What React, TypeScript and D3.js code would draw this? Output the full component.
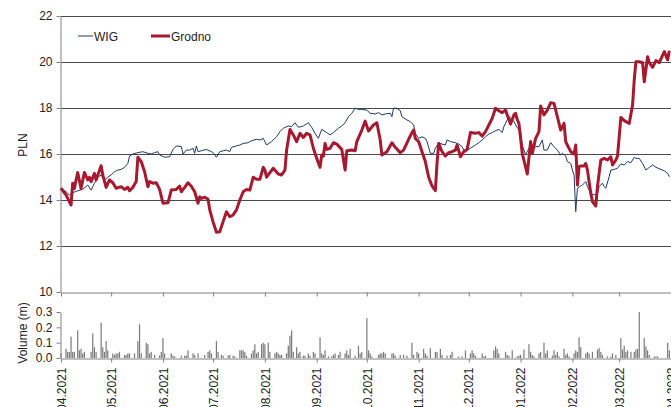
import React from "react";
import * as d3 from "d3";

const WIDTH = 671;
const HEIGHT = 407;
const FONT = "'Liberation Sans', Arial, sans-serif";

// month ticks on the shared time axis
const monthTicks = [
  "2021-04-01", "2021-05-01", "2021-06-01", "2021-07-01", "2021-08-01", "2021-09-01", "2021-10-01",
  "2021-11-01", "2021-12-01", "2022-01-01", "2022-02-01", "2022-03-01", "2022-04-01",
];
const priceTicks = [10, 12, 14, 16, 18, 20, 22];
const volumeTicks = [0, 0.1, 0.2, 0.3];

// WIG (rebased to PLN)
const wig: [string, number][] = [
  ["2021-04-01",14.51],["2021-04-04",14.36],["2021-04-06",14.22],["2021-04-08",14.32],["2021-04-11",14.40],["2021-04-14",14.46],["2021-04-17",14.65],["2021-04-19",14.43],["2021-04-21",14.73],["2021-04-23",14.99],["2021-04-25",15.09],["2021-04-27",14.87],["2021-04-29",14.99],
  ["2021-05-01",15.09],["2021-05-03",15.23],["2021-05-05",15.30],["2021-05-07",15.33],["2021-05-09",15.42],["2021-05-11",15.59],["2021-05-12",15.91],["2021-05-14",16.00],["2021-05-17",16.06],["2021-05-20",16.10],["2021-05-23",16.03],["2021-05-25",16.00],["2021-05-27",16.06],["2021-05-29",16.10],["2021-05-30",15.96],
  ["2021-06-02",15.86],["2021-06-05",15.88],["2021-06-07",16.20],["2021-06-09",16.35],["2021-06-12",16.32],["2021-06-13",16.00],["2021-06-15",16.17],["2021-06-17",16.17],["2021-06-19",16.25],["2021-06-20",16.03],["2021-06-21",16.35],["2021-06-22",16.10],["2021-06-24",16.14],["2021-06-27",16.20],["2021-06-30",16.10],
  ["2021-07-01",16.06],["2021-07-03",15.86],["2021-07-05",16.10],["2021-07-07",16.14],["2021-07-09",16.17],["2021-07-11",16.10],["2021-07-12",16.29],["2021-07-15",16.35],["2021-07-17",16.39],["2021-07-19",16.46],["2021-07-22",16.49],["2021-07-24",16.58],["2021-07-27",16.64],["2021-07-29",16.61],["2021-07-31",16.68],
  ["2021-08-02",16.39],["2021-08-05",16.54],["2021-08-08",16.75],["2021-08-10",16.97],["2021-08-12",17.12],["2021-08-15",17.22],["2021-08-17",17.19],["2021-08-19",17.36],["2021-08-21",17.16],["2021-08-24",17.22],["2021-08-27",17.36],["2021-08-29",17.16],["2021-08-31",16.90],
  ["2021-09-02",16.68],["2021-09-04",17.07],["2021-09-07",16.93],["2021-09-09",16.83],["2021-09-11",16.93],["2021-09-14",17.12],["2021-09-16",17.22],["2021-09-18",17.36],["2021-09-20",17.62],["2021-09-22",17.77],["2021-09-24",17.99],["2021-09-26",17.94],["2021-09-28",17.94],
  ["2021-10-01",17.91],["2021-10-03",17.77],["2021-10-06",17.74],["2021-10-08",17.80],["2021-10-10",17.70],["2021-10-12",17.74],["2021-10-15",17.77],["2021-10-16",17.62],["2021-10-17",17.99],["2021-10-19",17.99],["2021-10-21",17.88],["2021-10-22",17.62],["2021-10-25",17.48],["2021-10-27",17.41],["2021-10-29",17.26],["2021-10-30",16.90],
  ["2021-11-01",16.68],["2021-11-03",16.75],["2021-11-05",16.68],["2021-11-06",16.54],["2021-11-08",16.03],["2021-11-10",16.03],["2021-11-11",16.25],["2021-11-13",16.49],["2021-11-15",16.43],["2021-11-17",16.39],["2021-11-18",16.61],["2021-11-20",16.54],["2021-11-23",16.49],["2021-11-25",16.43],["2021-11-27",16.32],["2021-11-28",16.17],["2021-11-30",16.17],
  ["2021-12-02",16.25],["2021-12-05",16.39],["2021-12-07",16.49],["2021-12-09",16.61],["2021-12-11",16.75],["2021-12-13",16.87],["2021-12-15",16.93],["2021-12-17",17.01],["2021-12-19",17.07],["2021-12-21",16.93],["2021-12-22",17.19],["2021-12-24",17.48],["2021-12-25",17.62],["2021-12-27",17.51],["2021-12-28",17.41],["2021-12-30",17.15],
  ["2022-01-01",16.97],["2022-01-02",16.39],["2022-01-04",15.96],["2022-01-06",16.25],["2022-01-08",16.17],["2022-01-10",16.32],["2022-01-12",16.32],["2022-01-14",16.61],["2022-01-15",16.17],["2022-01-17",16.17],["2022-01-19",16.49],["2022-01-21",16.32],["2022-01-23",16.17],["2022-01-25",15.96],["2022-01-26",16.03],["2022-01-28",15.91],["2022-01-29",15.67],["2022-01-31",15.59],
  ["2022-02-01",15.30],["2022-02-02",15.09],["2022-02-03",13.49],["2022-02-04",14.51],["2022-02-06",14.61],["2022-02-07",14.65],["2022-02-09",14.80],["2022-02-10",14.58],["2022-02-12",14.29],["2022-02-14",14.22],["2022-02-16",14.29],["2022-02-17",14.58],["2022-02-19",14.73],["2022-02-20",14.58],["2022-02-21",14.51],["2022-02-23",15.01],["2022-02-24",15.30],["2022-02-26",15.33],["2022-02-28",15.38],
  ["2022-03-02",15.57],["2022-03-04",15.52],["2022-03-06",15.67],["2022-03-08",15.62],["2022-03-10",15.86],["2022-03-11",15.81],["2022-03-13",15.81],["2022-03-15",15.59],["2022-03-17",15.30],["2022-03-19",15.42],["2022-03-21",15.52],["2022-03-23",15.42],["2022-03-26",15.33],["2022-03-28",15.27],["2022-03-30",15.16],["2022-03-31",15.01],
];

// Grodno share price
const grodno: [string, number][] = [
  ["2021-04-01",14.51],["2021-04-04",14.22],["2021-04-07",13.78],["2021-04-08",14.73],["2021-04-09",14.50],["2021-04-10",14.87],["2021-04-11",15.19],["2021-04-13",14.50],["2021-04-15",15.20],["2021-04-17",14.87],["2021-04-18",14.99],["2021-04-19",14.80],["2021-04-21",15.16],["2021-04-22",14.87],["2021-04-25",15.49],["2021-04-26",15.09],["2021-04-28",14.55],["2021-04-30",14.87],
  ["2021-05-02",14.75],["2021-05-04",14.51],["2021-05-07",14.58],["2021-05-09",14.46],["2021-05-11",14.55],["2021-05-12",14.40],["2021-05-14",14.55],["2021-05-16",14.80],["2021-05-17",15.86],["2021-05-19",15.67],["2021-05-21",15.23],["2021-05-23",14.58],["2021-05-24",14.80],["2021-05-26",14.73],["2021-05-28",14.75],["2021-05-30",14.46],
  ["2021-06-01",13.86],["2021-06-04",13.88],["2021-06-06",14.43],["2021-06-09",14.46],["2021-06-11",14.60],["2021-06-12",14.36],["2021-06-14",14.55],["2021-06-16",14.75],["2021-06-18",14.60],["2021-06-20",14.36],["2021-06-22",13.86],["2021-06-23",14.14],["2021-06-24",14.07],["2021-06-26",14.12],["2021-06-28",14.03],["2021-06-29",13.57],
  ["2021-07-01",13.05],["2021-07-03",12.60],["2021-07-05",12.62],["2021-07-07",13.06],["2021-07-09",13.49],["2021-07-11",13.27],["2021-07-13",13.35],["2021-07-15",13.57],["2021-07-17",14.00],["2021-07-19",14.36],["2021-07-21",14.46],["2021-07-23",14.43],["2021-07-25",14.99],["2021-07-27",14.90],["2021-07-29",14.90],["2021-07-31",15.42],
  ["2021-08-01",15.30],["2021-08-02",14.99],["2021-08-04",15.19],["2021-08-06",15.38],["2021-08-09",15.13],["2021-08-11",15.09],["2021-08-13",15.30],["2021-08-14",16.17],["2021-08-16",17.07],["2021-08-18",16.83],["2021-08-20",16.54],["2021-08-22",16.90],["2021-08-24",16.72],["2021-08-26",16.90],["2021-08-28",16.83],["2021-08-30",16.25],
  ["2021-09-01",15.81],["2021-09-03",15.42],["2021-09-04",15.96],["2021-09-05",15.91],["2021-09-06",16.46],["2021-09-07",16.20],["2021-09-09",16.25],["2021-09-11",16.49],["2021-09-13",16.43],["2021-09-16",16.20],["2021-09-18",15.30],["2021-09-19",16.14],["2021-09-22",16.17],["2021-09-24",16.14],["2021-09-25",16.54],["2021-09-28",17.04],["2021-09-30",17.43],
  ["2021-10-02",17.00],["2021-10-05",17.26],["2021-10-07",17.36],["2021-10-09",16.61],["2021-10-10",15.96],["2021-10-13",16.10],["2021-10-16",16.49],["2021-10-18",16.29],["2021-10-21",16.06],["2021-10-23",16.17],["2021-10-26",16.64],["2021-10-28",16.93],["2021-10-29",17.04],["2021-10-30",16.68],
  ["2021-11-01",16.54],["2021-11-03",16.10],["2021-11-05",15.67],["2021-11-07",14.99],["2021-11-09",14.61],["2021-11-11",14.41],["2021-11-12",15.59],["2021-11-13",16.46],["2021-11-15",16.10],["2021-11-17",15.91],["2021-11-19",16.06],["2021-11-21",16.10],["2021-11-23",16.17],["2021-11-24",16.39],["2021-11-26",15.88],["2021-11-28",16.10],["2021-11-30",16.20],
  ["2021-12-02",16.93],["2021-12-05",16.90],["2021-12-07",16.93],["2021-12-09",16.78],["2021-12-11",16.97],["2021-12-13",17.26],["2021-12-15",17.55],["2021-12-17",17.99],["2021-12-19",17.88],["2021-12-21",17.80],["2021-12-23",17.91],["2021-12-24",17.70],["2021-12-26",17.30],["2021-12-28",17.70],["2021-12-29",17.77],["2021-12-30",17.50],["2021-12-31",17.33],
  ["2022-01-02",16.03],["2022-01-05",15.13],["2022-01-07",16.54],["2022-01-08",16.03],["2022-01-10",16.68],["2022-01-12",16.97],["2022-01-13",18.09],["2022-01-15",17.70],["2022-01-17",17.91],["2022-01-19",18.23],["2022-01-21",18.20],["2022-01-23",17.62],["2022-01-25",17.04],["2022-01-27",17.33],["2022-01-28",16.54],["2022-01-29",16.39],["2022-01-31",16.10],
  ["2022-02-02",16.00],["2022-02-03",16.39],["2022-02-04",14.65],["2022-02-05",15.45],["2022-02-06",15.48],["2022-02-08",15.48],["2022-02-09",15.59],["2022-02-10",15.30],["2022-02-12",14.29],["2022-02-13",13.93],["2022-02-15",13.74],["2022-02-16",14.58],["2022-02-18",15.74],["2022-02-20",15.81],["2022-02-22",15.74],["2022-02-24",15.88],["2022-02-25",15.52],["2022-02-27",15.74],["2022-02-28",15.91],
  ["2022-03-02",17.59],["2022-03-04",17.45],["2022-03-07",17.33],["2022-03-09",18.13],["2022-03-10",19.22],["2022-03-11",20.01],["2022-03-13",20.01],["2022-03-15",19.97],["2022-03-16",19.14],["2022-03-18",20.23],["2022-03-19",19.97],["2022-03-21",19.77],["2022-03-23",20.06],["2022-03-25",19.97],["2022-03-27",20.30],["2022-03-28",20.45],["2022-03-30",20.09],["2022-03-31",20.49],
];

// daily volume, millions of shares
const volume: [string, number][] = [
  ["2021-04-01",0.03],["2021-04-04",0.06],["2021-04-05",0.04],["2021-04-06",0.04],["2021-04-07",0.14],["2021-04-08",0.04],["2021-04-09",0.04],["2021-04-11",0.18],["2021-04-12",0.05],["2021-04-13",0.06],["2021-04-14",0.03],["2021-04-15",0.04],["2021-04-19",0.04],["2021-04-20",0.16],["2021-04-21",0.07],["2021-04-22",0.04],["2021-04-25",0.23],["2021-04-26",0.07],["2021-04-27",0.04],["2021-04-28",0.11],["2021-04-29",0.05],
  ["2021-05-02",0.03],["2021-05-03",0.02],["2021-05-04",0.03],["2021-05-05",0.03],["2021-05-06",0.04],["2021-05-09",0.02],["2021-05-10",0.02],["2021-05-11",0.03],["2021-05-12",0.03],["2021-05-15",0.03],["2021-05-17",0.11],["2021-05-18",0.22],["2021-05-19",0.03],["2021-05-22",0.10],["2021-05-23",0.09],["2021-05-24",0.03],["2021-05-25",0.04],["2021-05-27",0.02],["2021-05-30",0.015],["2021-05-31",0.04],
  ["2021-06-01",0.13],["2021-06-02",0.03],["2021-06-06",0.03],["2021-06-07",0.015],["2021-06-08",0.01],["2021-06-12",0.015],["2021-06-14",0.015],["2021-06-15",0.015],["2021-06-16",0.05],["2021-06-19",0.03],["2021-06-20",0.02],["2021-06-22",0.03],["2021-06-26",0.02],["2021-06-28",0.04],["2021-06-29",0.05],["2021-06-30",0.03],
  ["2021-07-03",0.11],["2021-07-04",0.04],["2021-07-06",0.02],["2021-07-07",0.015],["2021-07-10",0.015],["2021-07-11",0.02],["2021-07-13",0.015],["2021-07-14",0.01],["2021-07-17",0.05],["2021-07-18",0.05],["2021-07-19",0.05],["2021-07-20",0.04],["2021-07-21",0.015],["2021-07-24",0.03],["2021-07-25",0.05],["2021-07-26",0.09],["2021-07-27",0.03],["2021-07-28",0.04],["2021-07-30",0.09],["2021-07-31",0.10],
  ["2021-08-01",0.09],["2021-08-03",0.10],["2021-08-04",0.04],["2021-08-07",0.03],["2021-08-08",0.04],["2021-08-09",0.03],["2021-08-10",0.02],["2021-08-11",0.02],["2021-08-14",0.03],["2021-08-15",0.08],["2021-08-16",0.145],["2021-08-17",0.18],["2021-08-18",0.04],["2021-08-20",0.07],["2021-08-21",0.03],["2021-08-22",0.04],["2021-08-24",0.015],["2021-08-25",0.015],["2021-08-27",0.03],["2021-08-28",0.015],["2021-08-30",0.04],["2021-08-31",0.03],
  ["2021-09-03",0.135],["2021-09-04",0.03],["2021-09-05",0.02],["2021-09-06",0.05],["2021-09-08",0.01],["2021-09-10",0.01],["2021-09-11",0.02],["2021-09-12",0.03],["2021-09-14",0.02],["2021-09-15",0.04],["2021-09-18",0.03],["2021-09-19",0.05],["2021-09-20",0.02],["2021-09-21",0.06],["2021-09-24",0.015],["2021-09-26",0.08],["2021-09-27",0.03],["2021-09-28",0.04],
  ["2021-10-01",0.26],["2021-10-02",0.05],["2021-10-03",0.03],["2021-10-04",0.01],["2021-10-08",0.02],["2021-10-09",0.03],["2021-10-10",0.03],["2021-10-11",0.04],["2021-10-12",0.03],["2021-10-16",0.03],["2021-10-17",0.03],["2021-10-18",0.015],["2021-10-21",0.02],["2021-10-23",0.02],["2021-10-25",0.015],["2021-10-28",0.10],["2021-10-29",0.02],["2021-10-31",0.04],
  ["2021-11-01",0.03],["2021-11-04",0.06],["2021-11-05",0.03],["2021-11-06",0.015],["2021-11-08",0.065],["2021-11-11",0.04],["2021-11-12",0.04],["2021-11-14",0.06],["2021-11-15",0.02],["2021-11-18",0.015],["2021-11-20",0.02],["2021-11-21",0.04],["2021-11-25",0.01],["2021-11-27",0.01],["2021-11-29",0.05],
  ["2021-12-02",0.03],["2021-12-03",0.05],["2021-12-04",0.03],["2021-12-05",0.015],["2021-12-09",0.03],["2021-12-10",0.01],["2021-12-11",0.015],["2021-12-16",0.05],["2021-12-17",0.075],["2021-12-18",0.06],["2021-12-19",0.03],["2021-12-23",0.04],["2021-12-24",0.02],["2021-12-25",0.015],["2021-12-27",0.05],["2021-12-30",0.01],["2021-12-31",0.015],
  ["2022-01-01",0.02],["2022-01-03",0.055],["2022-01-06",0.09],["2022-01-07",0.04],["2022-01-08",0.02],["2022-01-09",0.01],["2022-01-12",0.03],["2022-01-13",0.04],["2022-01-15",0.10],["2022-01-16",0.03],["2022-01-17",0.05],["2022-01-20",0.015],["2022-01-21",0.05],["2022-01-22",0.02],["2022-01-23",0.04],["2022-01-24",0.01],["2022-01-27",0.06],["2022-01-28",0.02],["2022-01-29",0.03],["2022-01-30",0.01],
  ["2022-02-02",0.03],["2022-02-03",0.05],["2022-02-04",0.04],["2022-02-05",0.135],["2022-02-06",0.07],["2022-02-09",0.03],["2022-02-10",0.04],["2022-02-11",0.03],["2022-02-13",0.04],["2022-02-16",0.055],["2022-02-17",0.065],["2022-02-18",0.04],["2022-02-19",0.02],["2022-02-22",0.01],["2022-02-24",0.01],["2022-02-25",0.03],["2022-02-27",0.02],
  ["2022-03-02",0.13],["2022-03-03",0.055],["2022-03-04",0.08],["2022-03-05",0.04],["2022-03-06",0.05],["2022-03-08",0.04],["2022-03-10",0.04],["2022-03-11",0.055],["2022-03-12",0.06],["2022-03-13",0.30],["2022-03-16",0.13],["2022-03-17",0.075],["2022-03-18",0.05],["2022-03-19",0.02],["2022-03-22",0.01],["2022-03-23",0.01],["2022-03-24",0.01],["2022-03-30",0.10],["2022-03-31",0.05],
];

const App = () => {
  const svgRef = React.useRef<SVGSVGElement>(null);

  React.useEffect(() => {
    const parse = d3.timeParse("%Y-%m-%d");
    const months = monthTicks.map((d) => parse(d) as Date);

    const x = d3.scaleTime().domain([months[0], months[months.length - 1]]).range([61, 671]);
    const y = d3.scaleLinear().domain([10, 22]).range([292, 16]);
    const yVol = d3.scaleLinear().domain([0, 0.3]).range([358, 312]);

    const svgEl = d3.select(svgRef.current);
    svgEl.selectAll("*").remove();
    const svg = svgEl.append("g");

    // horizontal grid lines
    svg
      .append("g")
      .selectAll("line")
      .data(priceTicks.filter((t) => t !== 10))
      .join("line")
      .attr("x1", 61)
      .attr("x2", 671)
      .attr("y1", (d) => Math.round(y(d)) + 0.5)
      .attr("y2", (d) => Math.round(y(d)) + 0.5)
      .attr("stroke", "#4a4a4a")
      .attr("stroke-width", 1);

    const styleAxis = (g: d3.Selection<SVGGElement, unknown, null, undefined>) => {
      g.select(".domain").attr("stroke", "#808080");
      g.selectAll(".tick line").attr("stroke", "#808080");
      g.selectAll("text").attr("font-family", FONT).attr("font-size", 12).attr("fill", "#222");
    };

    // price axis
    const yAxisGroup = svg
      .append("g")
      .attr("transform", "translate(60.5,0)")
      .call(d3.axisLeft(y).tickValues(priceTicks).tickSize(4).tickSizeOuter(0).tickPadding(4));
    styleAxis(yAxisGroup);

    const xTopGroup = svg
      .append("g")
      .attr("transform", "translate(0,292.5)")
      .call(d3.axisBottom(x).tickValues(months).tickSize(4).tickSizeOuter(0).tickFormat(() => ""));
    styleAxis(xTopGroup);

    // volume bars
    svg
      .append("g")
      .selectAll("rect")
      .data(volume)
      .join("rect")
      .attr("x", (d) => x(parse(d[0]) as Date) - 0.6)
      .attr("width", 1.2)
      .attr("y", (d) => yVol(d[1]))
      .attr("height", (d) => yVol(0) - yVol(d[1]))
      .attr("fill", "#7a7a7a");

    const volAxisGroup = svg
      .append("g")
      .attr("transform", "translate(60.5,0)")
      .call(d3.axisLeft(yVol).tickValues(volumeTicks).tickSize(4).tickSizeOuter(0).tickPadding(4).tickFormat(d3.format(".1f")));
    styleAxis(volAxisGroup);

    const xAxisGroup = svg
      .append("g")
      .attr("transform", "translate(0,358.5)")
      .call(
        d3.axisBottom(x).tickValues(months).tickSize(4).tickSizeOuter(0)
          .tickFormat((d) => d3.timeFormat("%m.%Y")(d as Date))
      );
    styleAxis(xAxisGroup);
    xAxisGroup
      .selectAll("text")
      .attr("transform", "rotate(-90)")
      .attr("x", -9)
      .attr("y", 0)
      .attr("dy", "0.35em")
      .attr("text-anchor", "end");

    // series lines
    const line = d3
      .line<[string, number]>()
      .x((d) => x(parse(d[0]) as Date))
      .y((d) => y(d[1]));

    svg
      .append("path")
      .datum(wig)
      .attr("fill", "none")
      .attr("stroke", "#1f3864")
      .attr("stroke-width", 1)
      .attr("d", line);

    svg
      .append("path")
      .datum(grodno)
      .attr("fill", "none")
      .attr("stroke", "#a6192e")
      .attr("stroke-width", 3)
      .attr("stroke-linejoin", "round")
      .attr("d", line);

    // axis titles
    svg
      .append("text")
      .attr("transform", "translate(27,145) rotate(-90)")
      .attr("text-anchor", "middle")
      .attr("font-family", FONT)
      .attr("font-size", 12)
      .attr("fill", "#222")
      .text("PLN");
    svg
      .append("text")
      .attr("transform", "translate(27,333) rotate(-90)")
      .attr("text-anchor", "middle")
      .attr("font-family", FONT)
      .attr("font-size", 12)
      .attr("fill", "#222")
      .text("Volume (m)");

    // legend
    const legend = svg.append("g").attr("font-family", FONT).attr("font-size", 12).attr("fill", "#222");
    legend.append("line").attr("x1", 78).attr("x2", 93).attr("y1", 36).attr("y2", 36).attr("stroke", "#1f3864").attr("stroke-width", 1);
    legend.append("text").attr("x", 94).attr("y", 40.5).text("WIG");
    legend.append("line").attr("x1", 151).attr("x2", 170).attr("y1", 36).attr("y2", 36).attr("stroke", "#a6192e").attr("stroke-width", 3);
    legend.append("text").attr("x", 171).attr("y", 40.5).text("Grodno");
  }, []);

  return (
    <div style={{ position: "absolute", left: 0, top: 0 }}>
      <svg ref={svgRef} width={WIDTH} height={HEIGHT} style={{ display: "block", background: "#fff" }} />
    </div>
  );
};

export default App;
